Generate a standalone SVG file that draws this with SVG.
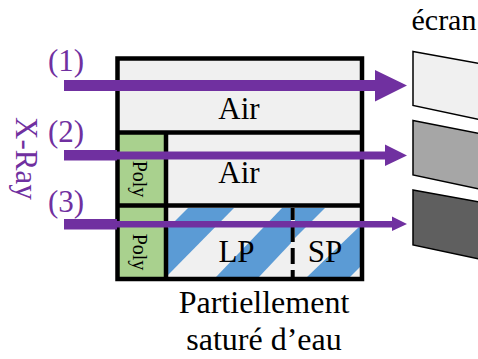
<svg xmlns="http://www.w3.org/2000/svg" width="478" height="359" viewBox="0 0 478 359">
<style>
text{font-family:"Liberation Serif","Times New Roman",serif;fill:#000}
.p{fill:#7030a0}
.t{font-size:32px;text-anchor:middle}
.n{font-size:31px;fill:#7030a0}
.poly{font-size:20px;text-anchor:middle}
.b{fill:#5b9bd5}
.l{fill:none;stroke:#000;stroke-width:4.5}
.s{stroke:#000;stroke-width:1.5}
</style>
<g id="box">
<rect x="117.5" y="58.5" width="244.500" height="220.500" fill="#f0f0f0"/>
<rect x="119" y="133" width="47" height="145" fill="#a9d18e"/>
<path class="b" d="M188 208H234L168 275V228Z"/>
<path class="b" d="M282 208H291V243L259 277H216Z"/>
<path class="b" d="M295 208H325L295 238Z"/>
<path class="b" d="M307 277L360 226V267L350 277Z"/>
<rect class="l" x="117.500" y="58.500" width="244.500" height="220.500"/>
<path class="l" d="M117 132.500H362M117 205.500H362M166 132.500V279"/>
<path class="l" d="M292.700 208V277" stroke-dasharray="12 6 16 6 16 6 13" style="stroke-width:4"/>
</g>
<g id="labels">
<text class="t" x="239" y="119" style="font-size:31px">Air</text>
<text class="t" x="239" y="183" style="font-size:31px">Air</text>
<text class="t" x="236.500" y="262" style="font-size:31px">LP</text>
<text class="t" x="325" y="262" style="font-size:31px">SP</text>
<text class="poly" transform="translate(133,179) rotate(90)">Poly</text>
<text class="poly" transform="translate(133,252) rotate(90)">Poly</text>
<text class="t" x="264" y="313">Partiellement</text>
<text class="t" x="264" y="350">saturé d’eau</text>
<text x="411.500" y="30" style="font-size:30px">écran</text>
</g>
<g id="ray-labels">
<text class="n" x="48" y="71">(1)</text>
<text class="n" x="48" y="141.500">(2)</text>
<text class="n" x="48" y="211.500">(3)</text>
<text class="n" transform="translate(16,117) rotate(90)">X-Ray</text>
</g>
<g id="screens">
<path id="screen1" class="s" fill="#f0f0f0" d="M413 51.500L479 63.500V119.500L413 105.500Z"/>
<path id="screen2" class="s" fill="#a6a6a6" d="M413 120.500L479 133.500V189L413 175Z"/>
<path id="screen3" class="s" fill="#5f5f5f" d="M413 190L479 202V259L413 245Z"/>
</g>
<g id="connectors">
<path class="p" d="M64 80H375V70L407 85.500L375 101.500V91H64Z"/>
<path class="p" d="M64 150H117V151.500H385V144.500L407 155.500L385 166V159.500H117V160.500H64Z"/>
<path class="p" d="M64 219H117V221H392V216.500L407 224L392 231V227.500H117V229.500H64Z"/>
</g>
</svg>
